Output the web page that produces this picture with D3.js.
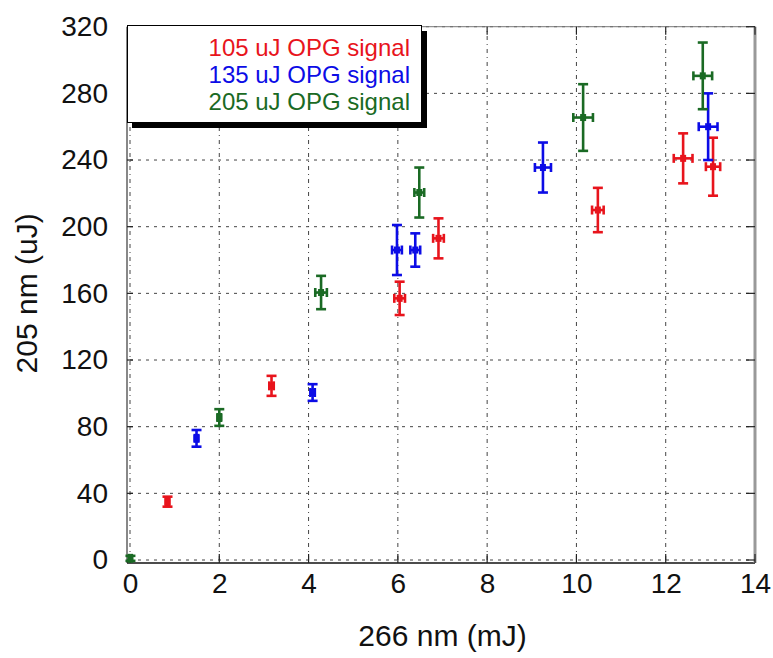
<!DOCTYPE html>
<html>
<head>
<meta charset="utf-8">
<script src="https://cdn.jsdelivr.net/npm/d3@7"></script>
<style>
  body { margin: 0; background: #fff; }
  svg { display: block; font-family: "Liberation Sans", Arial, sans-serif; }
</style>
</head>
<body>
<div id="chart"></div>
<script>
const xTicks = [0, 2, 4, 6, 8, 10, 12, 14]
const yTicks = [0, 40, 80, 120, 160, 200, 240, 280, 320]
const seriesNames = ['105 uJ OPG signal', '135 uJ OPG signal', '205 uJ OPG signal']
const seriesColors = ['#e8141c', '#0c0ce6', '#1a6a24']

// 105 uJ
const redX = [0.84, 3.17, 6.04, 6.91, 10.48, 12.39, 13.06]
const redY = [35, 104.5, 157, 193, 210, 241, 236]
const redXErr = [0.04, 0.05, 0.12, 0.12, 0.13, 0.21, 0.16]
const redYErr = [3, 6, 10, 12, 13.3, 15, 17.4]
// 135 uJ
const blueX = [1.49, 4.09, 5.98, 6.39, 9.25, 12.95]
const blueY = [73, 100.5, 186, 186, 235.5, 260]
const blueXErr = [0.04, 0.05, 0.11, 0.11, 0.18, 0.21]
const blueYErr = [5, 5, 15, 10, 15, 20]
// 205 uJ
const greenX = [0.01, 2.0, 4.28, 6.48, 10.15, 12.83]
const greenY = [1, 85.5, 160.5, 220.5, 265.5, 290.5]
const greenXErr = [0.03, 0.04, 0.13, 0.11, 0.22, 0.21]
const greenYErr = [1.5, 5, 10, 15, 20, 20]

const width = 773
const height = 658
const margin = { top: 26.7, right: 18, bottom: 98, left: 130 }

const svg = d3.select('#chart')
    .append('svg')
    .attr('width', width)
    .attr('height', height)

const x = d3.scaleLinear()
    .domain([0, 14])
    .range([margin.left, width - margin.right])

const y = d3.scaleLinear()
    .domain([0, 320])
    .range([height - margin.bottom, margin.top])

const x0 = x(0), x1 = x(14), y0 = y(0), y1 = y(320)

// grid
const grid = svg.append('g').attr('stroke', '#444').attr('stroke-width', 1)
grid.selectAll('.hg')
    .data(yTicks)
    .join('line')
        .attr('x1', x0).attr('x2', x1)
        .attr('y1', d => y(d)).attr('y2', d => y(d))
        .attr('stroke-dasharray', '3,5')
grid.selectAll('.vg')
    .data(xTicks)
    .join('line')
        .attr('x1', d => x(d)).attr('x2', d => x(d))
        .attr('y1', y0).attr('y2', y1)
        .attr('stroke-dasharray', '4,4,1,4')

// frame
svg.append('line').attr('x1', x0 - 3).attr('x2', x1).attr('y1', y1).attr('y2', y1)
    .attr('stroke', '#777').attr('stroke-width', 1)
svg.append('line').attr('x1', x0 - 3).attr('x2', x0 - 3).attr('y1', y1).attr('y2', y0 + 3)
    .attr('stroke', '#888').attr('stroke-width', 2)
svg.append('line').attr('x1', x0 - 3).attr('x2', x1).attr('y1', y0 + 3).attr('y2', y0 + 3)
    .attr('stroke', '#111').attr('stroke-width', 1.5)
svg.append('line').attr('x1', x1).attr('x2', x1).attr('y1', y1).attr('y2', y0 + 3)
    .attr('stroke', '#999').attr('stroke-width', 3)

// inward ticks
const ticks = svg.append('g').attr('stroke', '#222').attr('stroke-width', 1.2)
ticks.selectAll('.bt').data(xTicks).join('line')
    .attr('x1', d => x(d)).attr('x2', d => x(d))
    .attr('y1', y0 + 3).attr('y2', y0 - 6)
ticks.selectAll('.tt').data(xTicks).join('line')
    .attr('x1', d => x(d)).attr('x2', d => x(d))
    .attr('y1', y1).attr('y2', y1 + 8)
ticks.selectAll('.lt').data(yTicks).join('line')
    .attr('x1', x0 - 3).attr('x2', x0 + 3)
    .attr('y1', d => y(d)).attr('y2', d => y(d))
ticks.selectAll('.rt').data(yTicks).join('line')
    .attr('x1', x1).attr('x2', x1 - 9)
    .attr('y1', d => y(d)).attr('y2', d => y(d))

// tick labels
function xAxis(g) {
    g.attr('transform', `translate(0,${y0})`)
        .call(d3.axisBottom(x).tickValues(xTicks).tickSize(0).tickPadding(12))
        .attr('font-size', '28px')
        .attr('font-family', null)
    g.select('.domain').remove()
    g.selectAll('text').attr('fill', '#111').attr('dy', '0.75em')
}
function yAxis(g) {
    g.attr('transform', `translate(${x0 - 18},0)`)
        .call(d3.axisLeft(y).tickValues(yTicks).tickSize(0).tickPadding(4))
        .attr('font-size', '28px')
        .attr('font-family', null)
    g.select('.domain').remove()
    g.selectAll('text').attr('fill', '#111')
}
svg.append('g').call(xAxis)
svg.append('g').call(yAxis)

svg.append('text')
    .attr('x', (x0 + x1) / 2)
    .attr('y', 646)
    .attr('text-anchor', 'middle')
    .attr('font-size', '30px')
    .attr('fill', '#111')
    .text('266 nm (mJ)')
svg.append('text')
    .attr('transform', `translate(37,${(y0 + y1) / 2}) rotate(-90)`)
    .attr('text-anchor', 'middle')
    .attr('font-size', '30px')
    .attr('fill', '#111')
    .text('205 nm (uJ)')

// error bars
const allSeries = [
    { xs: redX, ys: redY, xe: redXErr, ye: redYErr },
    { xs: blueX, ys: blueY, xe: blueXErr, ye: blueYErr },
    { xs: greenX, ys: greenY, xe: greenXErr, ye: greenYErr }
]
allSeries.forEach((s, k) => {
    const pts = s.xs.map((v, i) => ({ x: v, y: s.ys[i], xe: s.xe[i], ye: s.ye[i] }))
    const g = svg.append('g')
        .attr('stroke', seriesColors[k])
        .attr('fill', seriesColors[k])
        .attr('stroke-width', 2.6)
    const p = g.selectAll('g').data(pts).join('g')
    p.append('line')
        .attr('x1', d => x(d.x)).attr('x2', d => x(d.x))
        .attr('y1', d => y(d.y - d.ye)).attr('y2', d => y(d.y + d.ye))
    p.append('line')
        .attr('x1', d => x(d.x) - 5).attr('x2', d => x(d.x) + 5)
        .attr('y1', d => y(d.y + d.ye)).attr('y2', d => y(d.y + d.ye))
    p.append('line')
        .attr('x1', d => x(d.x) - 5).attr('x2', d => x(d.x) + 5)
        .attr('y1', d => y(d.y - d.ye)).attr('y2', d => y(d.y - d.ye))
    p.append('line')
        .attr('x1', d => x(d.x - d.xe)).attr('x2', d => x(d.x + d.xe))
        .attr('y1', d => y(d.y)).attr('y2', d => y(d.y))
    p.append('line')
        .attr('x1', d => x(d.x - d.xe)).attr('x2', d => x(d.x - d.xe))
        .attr('y1', d => y(d.y) - 4.5).attr('y2', d => y(d.y) + 4.5)
    p.append('line')
        .attr('x1', d => x(d.x + d.xe)).attr('x2', d => x(d.x + d.xe))
        .attr('y1', d => y(d.y) - 4.5).attr('y2', d => y(d.y) + 4.5)
    p.append('rect')
        .attr('stroke', 'none')
        .attr('x', d => x(d.x) - 3).attr('y', d => y(d.y) - 3.5)
        .attr('width', 6).attr('height', 7)
})

// legend
const lg = svg.append('g')
lg.append('rect').attr('x', 132).attr('y', 31).attr('width', 295).attr('height', 97).attr('fill', '#000')
lg.append('rect').attr('x', 127.5).attr('y', 25.5).attr('width', 294).attr('height', 97)
    .attr('fill', '#fff').attr('stroke', '#000').attr('stroke-width', 1)
lg.selectAll('text')
    .data(seriesNames)
    .join('text')
        .attr('x', 410)
        .attr('y', (d, i) => 56 + i * 27)
        .attr('text-anchor', 'end')
        .attr('font-size', '24px')
        .attr('fill', (d, i) => seriesColors[i])
        .text(d => d)
</script>
</body>
</html>
